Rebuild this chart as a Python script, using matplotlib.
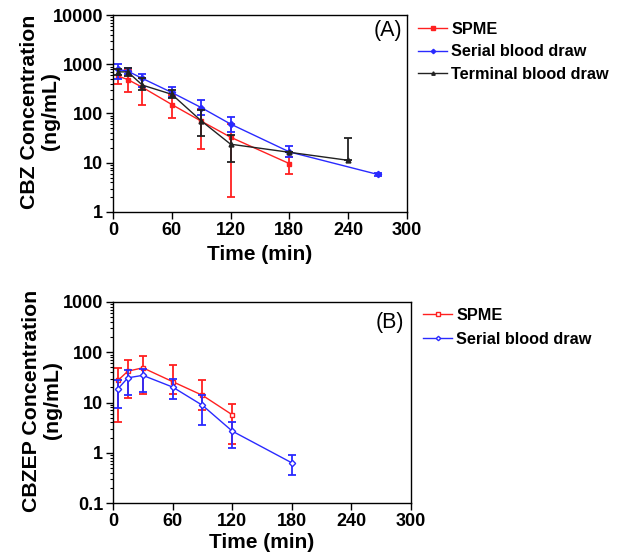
import numpy as np
import matplotlib
matplotlib.use('Agg')
import matplotlib.pyplot as plt
from matplotlib.ticker import LogLocator, FixedLocator, NullFormatter

plt.rcParams['font.family'] = ['Liberation Sans', 'DejaVu Sans']
plt.rcParams['font.weight'] = 'bold'

# (A) CBZ concentration, ng/mL
t_spme_a = [5, 15, 30, 60, 90, 120, 180]
spme_a = [575, 490, 340, 152, 70, 33, 9.6]
spme_a_hi = [785, 760, 515, 236, 126, 60, 13]
spme_a_lo = [400, 275, 148, 82, 19, 2.0, 6.0]

t_serial_a = [5, 15, 30, 60, 90, 120, 180, 270]
serial_a = [785, 725, 515, 267, 132, 61, 16.6, 5.8]
serial_a_hi = [1000, 820, 630, 340, 186, 85, 21.7, 6.2]
serial_a_lo = [500, 630, 340, 218, 92, 42, 13.2, 5.4]

t_term_a = [5, 15, 30, 60, 90, 120, 180, 240]
term_a = [700, 700, 377, 245, 71, 23.8, 16.3, 11.2]
term_a_hi = [810, 830, 520, 300, 117, 36, 16.3, 31.6]
term_a_lo = [600, 590, 300, 210, 35, 10.4, 16.3, 11.2]

# (B) CBZEP concentration, ng/mL
t_spme_b = [5, 15, 30, 60, 90, 120]
spme_b = [27.6, 42, 49, 26, 13.9, 5.7]
spme_b_hi = [49, 69, 84, 55, 28, 9.5]
spme_b_lo = [4.1, 12.5, 15, 15, 7.0, 1.5]

t_serial_b = [5, 15, 30, 60, 90, 120, 180]
serial_b = [18.8, 31, 34.7, 20.3, 8.8, 2.7, 0.63]
serial_b_hi = [27.6, 45, 47, 29, 13.9, 4.1, 0.9]
serial_b_lo = [7.8, 13.9, 16.2, 11.9, 3.5, 1.24, 0.355]

RED = '#ff2020'
BLUE = '#2a2aff'
BLACK = '#222222'
W, H = 619, 552


def series(ax, t, y, hi, lo, color, marker, label, mfc=None, ms=3.5):
    y = np.array(y)
    yerr = [y - np.array(lo), np.array(hi) - y]
    ax.errorbar(t, y, yerr=yerr, fmt='none', ecolor=color,
                elinewidth=1.3, capsize=3, capthick=1.3)
    ax.plot(t, y, color=color, marker=marker, markersize=ms,
            mfc=mfc if mfc else color, mec=color, mew=1, lw=1.0, label=label)


def style(ax, ymin, ymax, ylabel, ylab_x, xlab_y):
    ax.set_yscale('log')
    ax.set_ylim(ymin, ymax)
    ax.set_xlim(0, 300)
    ax.xaxis.set_major_locator(FixedLocator([0, 60, 120, 180, 240, 300]))
    ax.yaxis.set_major_locator(LogLocator(base=10, numticks=10))
    ax.yaxis.set_minor_locator(LogLocator(base=10, subs=np.arange(2, 10), numticks=20))
    ax.yaxis.set_minor_formatter(NullFormatter())
    ax.yaxis.set_major_formatter(plt.FuncFormatter(lambda v, p: '%g' % v))
    ax.tick_params(axis='both', which='major', direction='out', length=5,
                   width=1, labelsize=13, pad=2)
    ax.tick_params(axis='y', which='minor', direction='out', length=2.5, width=0.8)
    for lab in ax.get_xticklabels() + ax.get_yticklabels():
        lab.set_fontweight('bold')
    for s in ax.spines.values():
        s.set_linewidth(1.0)
    ax.set_xlabel('Time (min)', fontsize=15, fontweight='bold')
    ax.xaxis.set_label_coords(0.5, xlab_y)
    ax.set_ylabel(ylabel, fontsize=15.3, fontweight='bold', linespacing=1.15)
    ax.yaxis.set_label_coords(ylab_x, 0.51)


def add_legend(ax, x, y, spacing):
    ax.legend(loc='upper left', bbox_to_anchor=(x / W, 1 - y / H),
              bbox_transform=fig.transFigure, frameon=False,
              fontsize=11.7, handlelength=1.8, handletextpad=0.25,
              labelspacing=spacing, borderaxespad=0, borderpad=0,
              markerscale=0.7)


fig = plt.figure(figsize=(W / 100, H / 100), dpi=100)
ax1 = fig.add_axes([113 / W, 1 - 212 / H, 294 / W, 197 / H])
ax2 = fig.add_axes([113 / W, 1 - 503 / H, 298 / W, 201 / H])

series(ax1, t_spme_a, spme_a, spme_a_hi, spme_a_lo, RED, 's', 'SPME')
series(ax1, t_serial_a, serial_a, serial_a_hi, serial_a_lo, BLUE, 'D', 'Serial blood draw', ms=3.2)
series(ax1, t_term_a, term_a, term_a_hi, term_a_lo, BLACK, '^', 'Terminal blood draw')
style(ax1, 1, 10000, 'CBZ Concentration\n(ng/mL)', -0.18, -0.165)
ax1.text(0.985, 0.92, '(A)', transform=ax1.transAxes, ha='right', va='center',
         fontsize=15.5, fontweight='normal')
add_legend(ax1, 418, 22, 0.45)

series(ax2, t_spme_b, spme_b, spme_b_hi, spme_b_lo, RED, 's', 'SPME', mfc='white')
series(ax2, t_serial_b, serial_b, serial_b_hi, serial_b_lo, BLUE, 'D', 'Serial blood draw',
       mfc='white', ms=3.2)
style(ax2, 0.1, 1000, 'CBZEP Concentration\n(ng/mL)', -0.17, -0.15)
ax2.text(0.977, 0.9, '(B)', transform=ax2.transAxes, ha='right', va='center',
         fontsize=15.5, fontweight='normal')
add_legend(ax2, 423, 308, 0.55)

fig.savefig('out.png', dpi=100)
